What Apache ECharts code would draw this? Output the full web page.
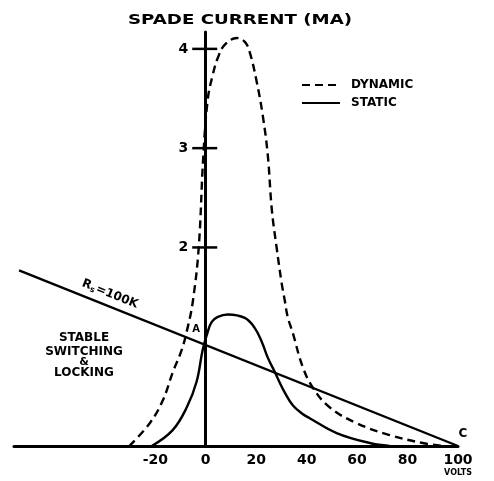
<!DOCTYPE html>
<html>
<head>
<meta charset="utf-8">
<script src="https://cdn.jsdelivr.net/npm/echarts@6/dist/echarts.min.js"></script>
<style>
html,body{margin:0;padding:0;background:#fff;}
#chart{width:494px;height:481px;}
</style>
</head>
<body>
<div id="chart"></div>
<script>
// Volts (x) and spade current in mA (y)
const dynamicV = [-30.3, -22.2, -17.0, -13.1, -9.5, -7.1, -5.2, -2.8, -1.0, 0.8, 2.8, 4.8, 7.5, 12.3, 15.5, 17.4, 20.2, 22.6, 24.6, 26.2, 28.1, 30.1, 31.3, 32.5, 34.5, 38.4, 42.4, 49.1, 59.8, 72.9, 86.0, 94.0];
const dynamicI = [0, 0.23, 0.46, 0.74, 0.97, 1.20, 1.44, 1.99, 2.90, 3.49, 3.74, 3.91, 4.04, 4.11, 4.07, 3.97, 3.67, 3.33, 2.93, 2.38, 2.00, 1.64, 1.47, 1.30, 1.14, 0.80, 0.59, 0.39, 0.23, 0.11, 0.03, 0];
const staticV = [-21.4, -13.1, -7.5, -3.6, -1.2, 0.8, 2.4, 4.8, 8.7, 15.5, 19.4, 22.2, 24.6, 27.3, 29.3, 31.3, 34.5, 38.0, 41.2, 51.9, 65.0, 72.9];
const staticI = [0, 0.16, 0.39, 0.65, 0.97, 1.15, 1.25, 1.30, 1.325, 1.29, 1.19, 1.05, 0.89, 0.75, 0.64, 0.54, 0.41, 0.33, 0.28, 0.13, 0.03, 0];
const loadLineV = [-74, 100];
const loadLineI = [1.77, 0];
const xTickLabels = [-20, 0, 20, 40, 60, 80, 100];
const yTickLabels = [2, 3, 4];

const FONT = '"DejaVu Sans", "Liberation Sans", sans-serif';
const zip = (a, b) => a.map((v, i) => [v, b[i]]);

const chart = echarts.init(document.getElementById('chart'), null, {renderer: 'canvas'});
chart.setOption({
  animation: false,
  backgroundColor: '#fff',
  grid: {left: 14, right: 36, top: 32, bottom: 35, containLabel: false, outerBoundsMode: 'none'},
  xAxis: {
    type: 'value', min: -76, max: 100,
    axisLine: {show: true, onZero: true, lineStyle: {color: '#000', width: 3}},
    axisTick: {show: false},
    splitLine: {show: false},
    axisLabel: {
      customValues: xTickLabels,
      margin: 7,
      color: '#000', fontFamily: FONT, fontWeight: 'bold', fontSize: 14,
      formatter: v => v === 100 ? '100\n{u|VOLTS}' : String(v),
      rich: {u: {fontFamily: FONT, fontWeight: 'bold', fontSize: 8, color: '#000', lineHeight: 12}}
    }
  },
  yAxis: {
    type: 'value', min: 0, max: 4.17,
    axisLine: {show: true, onZero: true, lineStyle: {color: '#000', width: 3}},
    axisTick: {show: false},
    splitLine: {show: false},
    axisLabel: {show: false}
  },
  legend: {
    orient: 'vertical', left: 296, top: 74,
    itemWidth: 38, itemHeight: 12, itemGap: 6,
    selectedMode: false,
    data: ['DYNAMIC', 'STATIC'],
    itemStyle: {color: 'rgba(0,0,0,0)', borderColor: 'rgba(0,0,0,0)', borderWidth: 0},
    textStyle: {color: '#000', fontFamily: FONT, fontWeight: 'bold', fontSize: 12, padding: [0, 0, 0, 6]}
  },
  graphic: [
    {type: 'text', x: 240, y: 20, scaleX: 1.3, silent: true,
     style: {text: 'SPADE CURRENT (MA)', fill: '#000', font: 'bold 14px ' + FONT, textAlign: 'center', textVerticalAlign: 'middle'}},
    {type: 'text', x: 84, y: 338, silent: true,
     style: {text: 'STABLE', fill: '#000', font: 'bold 12px ' + FONT, textAlign: 'center', textVerticalAlign: 'middle'}},
    {type: 'text', x: 84, y: 352, silent: true,
     style: {text: 'SWITCHING', fill: '#000', font: 'bold 12px ' + FONT, textAlign: 'center', textVerticalAlign: 'middle'}},
    {type: 'text', x: 84, y: 362, silent: true,
     style: {text: '&', fill: '#000', font: 'bold 11px ' + FONT, textAlign: 'center', textVerticalAlign: 'middle'}},
    {type: 'text', x: 84, y: 373, silent: true,
     style: {text: 'LOCKING', fill: '#000', font: 'bold 12px ' + FONT, textAlign: 'center', textVerticalAlign: 'middle'}},
    {type: 'text', x: 110, y: 294, rotation: -22 * Math.PI / 180, silent: true,
     style: {text: 'R{s|s}=100K', fill: '#000', font: 'bold 12px ' + FONT, textAlign: 'center', textVerticalAlign: 'middle',
       rich: {s: {font: 'bold 8px ' + FONT, fill: '#000', verticalAlign: 'bottom', padding: [6, 1, 0, 0]}}}},
    {type: 'text', x: 196, y: 329, silent: true,
     style: {text: 'A', fill: '#000', font: 'bold 10px ' + FONT, textAlign: 'center', textVerticalAlign: 'middle'}},
    {type: 'text', x: 463, y: 434, silent: true,
     style: {text: 'C', fill: '#000', font: 'bold 12px ' + FONT, textAlign: 'center', textVerticalAlign: 'middle'}}
  ],
  series: [
    {name: 'DYNAMIC', type: 'line', data: zip(dynamicV, dynamicI), symbol: 'none',
     smooth: 0.4,
     lineStyle: {color: '#000', width: 2.4, type: [8, 5]}, itemStyle: {color: '#000'}, z: 3},
    {name: 'STATIC', type: 'line', data: zip(staticV, staticI), symbol: 'none',
     smooth: 0.4,
     lineStyle: {color: '#000', width: 2.4, type: 'solid'}, itemStyle: {color: '#000'}, z: 3},
    {name: 'load', type: 'line', data: zip(loadLineV, loadLineI), symbol: 'none',
     lineStyle: {color: '#000', width: 2.4}, z: 3},
    {name: 'ticks', type: 'scatter', data: yTickLabels.map(v => [0, v]),
     symbol: 'rect', symbolSize: [25, 2.5], symbolOffset: [-1, 0],
     itemStyle: {color: '#000', opacity: 1}, silent: true, z: 4,
     label: {show: true, position: 'left', distance: 4, formatter: p => String(p.value[1]),
       color: '#000', fontFamily: FONT, fontWeight: 'bold', fontSize: 14}}
  ]
});
</script>
</body>
</html>
